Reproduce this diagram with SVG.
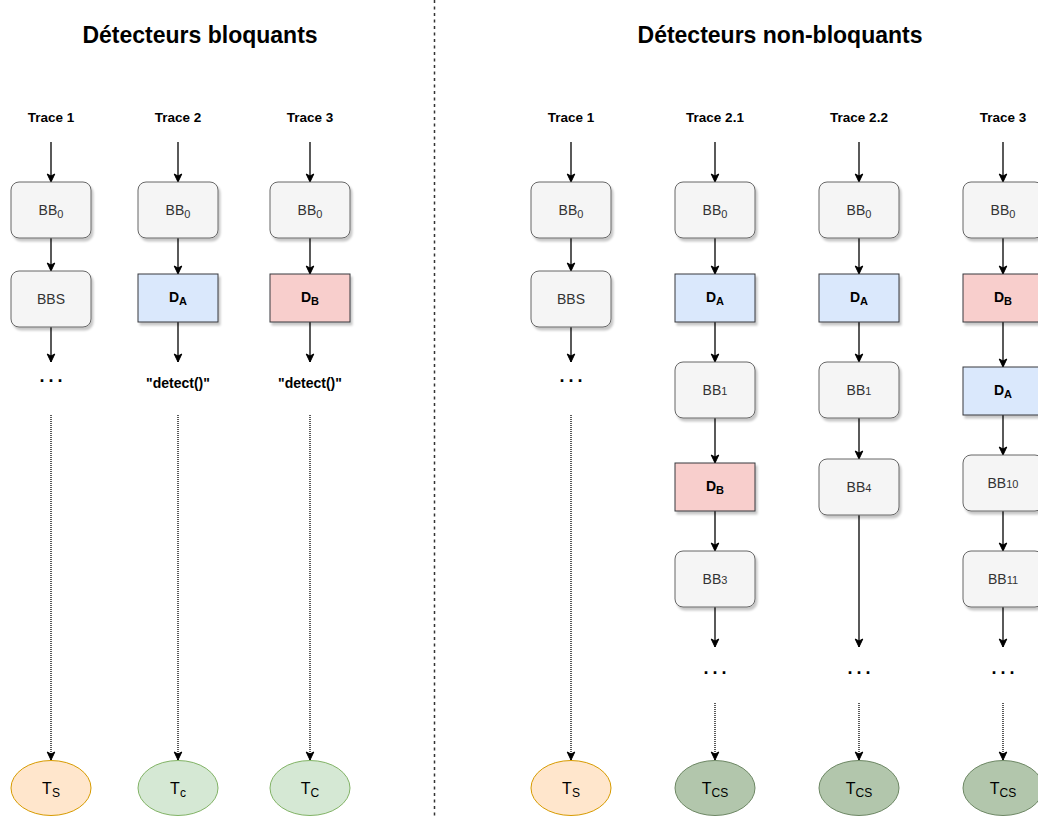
<svg xmlns="http://www.w3.org/2000/svg" width="1038" height="818" viewBox="0 0 1038 818">
<defs>
<filter id="sh" x="-20%" y="-20%" width="150%" height="150%">
<feDropShadow dx="2" dy="3" stdDeviation="1.2" flood-color="#000" flood-opacity="0.22"/>
</filter>
<marker id="ar" markerUnits="userSpaceOnUse" markerWidth="10" markerHeight="10" viewBox="0 0 10 10" refX="9" refY="5" orient="auto">
<path d="M1,1.2 L9,5 L1,8.8 L3,5 z" fill="#000" stroke="#000" stroke-width="1"/>
</marker>
<style>
.t{font-family:"Liberation Sans",Arial,sans-serif}
.title{font-size:23px;font-weight:bold;fill:#000}
.tr{font-size:13.5px;font-weight:bold;fill:#000}
.bb{fill:#f5f5f5;stroke:#666;stroke-width:1;filter:url(#sh)}
.bbt{font-size:14px;fill:#333}
.da{fill:#dae8fc;stroke:#36393d;stroke-width:1;filter:url(#sh)}
.db{fill:#f8cecc;stroke:#36393d;stroke-width:1;filter:url(#sh)}
.dt{font-size:14px;font-weight:bold;fill:#000}
.ts{fill:#ffe6cc;stroke:#d79b00;stroke-width:1}
.tc{fill:#d5e8d4;stroke:#82b366;stroke-width:1}
.tcs{fill:#b2c6ac;stroke:#6d8764;stroke-width:1}
.et{font-size:16px;fill:#000}
.dots{font-size:18px;font-weight:bold;fill:#000;letter-spacing:4px}
.det{font-size:14px;font-weight:bold;fill:#000}
.a{stroke:#000;stroke-width:1.3;fill:none;marker-end:url(#ar)}
.d{stroke:#000;stroke-width:1.3;fill:none;stroke-dasharray:1 1;marker-end:url(#ar)}
</style>
</defs>
<rect width="1038" height="818" fill="#fff"/>
<line x1="434.5" y1="0" x2="434.5" y2="818" stroke="#333" stroke-width="1.5" stroke-dasharray="3 3.5"/>
<g class="t">
<text class="title" x="200" y="43" text-anchor="middle">Détecteurs bloquants</text>
<text class="title" x="780" y="43" text-anchor="middle">Détecteurs non-bloquants</text>
<text class="tr" x="51" y="122" text-anchor="middle">Trace 1</text>
<text class="tr" x="178" y="122" text-anchor="middle">Trace 2</text>
<text class="tr" x="310" y="122" text-anchor="middle">Trace 3</text>
<text class="tr" x="571" y="122" text-anchor="middle">Trace 1</text>
<text class="tr" x="715" y="122" text-anchor="middle">Trace 2.1</text>
<text class="tr" x="859" y="122" text-anchor="middle">Trace 2.2</text>
<text class="tr" x="1003" y="122" text-anchor="middle">Trace 3</text>
<text class="dots" x="53" y="382" text-anchor="middle">...</text>
<text class="det" x="178" y="388" text-anchor="middle">"detect()"</text>
<text class="det" x="310" y="388" text-anchor="middle">"detect()"</text>
<text class="dots" x="573" y="382" text-anchor="middle">...</text>
<text class="dots" x="717" y="674" text-anchor="middle">...</text>
<text class="dots" x="861" y="674" text-anchor="middle">...</text>
<text class="dots" x="1005" y="674" text-anchor="middle">...</text>
</g>
<g id="connectors">
<line class="a" x1="51" y1="142" x2="51" y2="182"/>
<line class="a" x1="51" y1="238" x2="51" y2="271"/>
<line class="a" x1="51" y1="327" x2="51" y2="362"/>
<line class="d" x1="51" y1="415" x2="51" y2="760"/>
<line class="a" x1="178" y1="142" x2="178" y2="182"/>
<line class="a" x1="178" y1="238" x2="178" y2="274"/>
<line class="a" x1="178" y1="322" x2="178" y2="362"/>
<line class="d" x1="178" y1="415" x2="178" y2="760"/>
<line class="a" x1="310" y1="142" x2="310" y2="182"/>
<line class="a" x1="310" y1="238" x2="310" y2="274"/>
<line class="a" x1="310" y1="322" x2="310" y2="362"/>
<line class="d" x1="310" y1="415" x2="310" y2="760"/>
<line class="a" x1="571" y1="142" x2="571" y2="182"/>
<line class="a" x1="571" y1="238" x2="571" y2="271"/>
<line class="a" x1="571" y1="327" x2="571" y2="362"/>
<line class="d" x1="571" y1="415" x2="571" y2="760"/>
<line class="a" x1="715" y1="142" x2="715" y2="182"/>
<line class="a" x1="715" y1="238" x2="715" y2="274"/>
<line class="a" x1="715" y1="322" x2="715" y2="362"/>
<line class="a" x1="715" y1="418" x2="715" y2="463"/>
<line class="a" x1="715" y1="511" x2="715" y2="551"/>
<line class="a" x1="715" y1="607" x2="715" y2="647"/>
<line class="d" x1="715" y1="703" x2="715" y2="760"/>
<line class="a" x1="859" y1="142" x2="859" y2="182"/>
<line class="a" x1="859" y1="238" x2="859" y2="274"/>
<line class="a" x1="859" y1="322" x2="859" y2="362"/>
<line class="a" x1="859" y1="418" x2="859" y2="459"/>
<line class="a" x1="859" y1="515" x2="859" y2="647"/>
<line class="d" x1="859" y1="703" x2="859" y2="760"/>
<line class="a" x1="1003" y1="142" x2="1003" y2="182"/>
<line class="a" x1="1003" y1="238" x2="1003" y2="274"/>
<line class="a" x1="1003" y1="322" x2="1003" y2="367"/>
<line class="a" x1="1003" y1="415" x2="1003" y2="455"/>
<line class="a" x1="1003" y1="511" x2="1003" y2="551"/>
<line class="a" x1="1003" y1="607" x2="1003" y2="647"/>
<line class="d" x1="1003" y1="703" x2="1003" y2="760"/>
</g>
<g id="l1-bb0" class="t"><rect class="bb" x="11" y="182" width="80" height="56" rx="8"/><text class="bbt" x="51" y="215" text-anchor="middle">BB<tspan font-size="11" dy="3">0</tspan></text></g>
<g id="l1-bbs" class="t"><rect class="bb" x="11" y="271" width="80" height="56" rx="8"/><text class="bbt" x="51" y="304" text-anchor="middle">BBS</text></g>
<g id="l1-ts" class="t"><ellipse class="ts" cx="51" cy="788" rx="40" ry="27.5"/><text class="et" x="51" y="794" text-anchor="middle">T<tspan font-size="12" dy="3">S</tspan></text></g>
<g id="l2-bb0" class="t"><rect class="bb" x="138" y="182" width="80" height="56" rx="8"/><text class="bbt" x="178" y="215" text-anchor="middle">BB<tspan font-size="11" dy="3">0</tspan></text></g>
<g id="l2-da" class="t"><rect class="da" x="138" y="274" width="80" height="48"/><text class="dt" x="178" y="302" text-anchor="middle">D<tspan font-size="11" dy="3">A</tspan></text></g>
<g id="l2-tc" class="t"><ellipse class="tc" cx="178" cy="788" rx="40" ry="27.5"/><text class="et" x="178" y="794" text-anchor="middle">T<tspan font-size="12" dy="3">c</tspan></text></g>
<g id="l3-bb0" class="t"><rect class="bb" x="270" y="182" width="80" height="56" rx="8"/><text class="bbt" x="310" y="215" text-anchor="middle">BB<tspan font-size="11" dy="3">0</tspan></text></g>
<g id="l3-db" class="t"><rect class="db" x="270" y="274" width="80" height="48"/><text class="dt" x="310" y="302" text-anchor="middle">D<tspan font-size="11" dy="3">B</tspan></text></g>
<g id="l3-tc" class="t"><ellipse class="tc" cx="310" cy="788" rx="40" ry="27.5"/><text class="et" x="310" y="794" text-anchor="middle">T<tspan font-size="12" dy="3">C</tspan></text></g>
<g id="r1-bb0" class="t"><rect class="bb" x="531" y="182" width="80" height="56" rx="8"/><text class="bbt" x="571" y="215" text-anchor="middle">BB<tspan font-size="11" dy="3">0</tspan></text></g>
<g id="r1-bbs" class="t"><rect class="bb" x="531" y="271" width="80" height="56" rx="8"/><text class="bbt" x="571" y="304" text-anchor="middle">BBS</text></g>
<g id="r1-ts" class="t"><ellipse class="ts" cx="571" cy="788" rx="40" ry="27.5"/><text class="et" x="571" y="794" text-anchor="middle">T<tspan font-size="12" dy="3">S</tspan></text></g>
<g id="r21-bb0" class="t"><rect class="bb" x="675" y="182" width="80" height="56" rx="8"/><text class="bbt" x="715" y="215" text-anchor="middle">BB<tspan font-size="11" dy="3">0</tspan></text></g>
<g id="r21-da" class="t"><rect class="da" x="675" y="274" width="80" height="48"/><text class="dt" x="715" y="302" text-anchor="middle">D<tspan font-size="11" dy="3">A</tspan></text></g>
<g id="r21-bb1" class="t"><rect class="bb" x="675" y="362" width="80" height="56" rx="8"/><text class="bbt" x="715" y="395" text-anchor="middle">BB<tspan font-size="11">1</tspan></text></g>
<g id="r21-db" class="t"><rect class="db" x="675" y="463" width="80" height="48"/><text class="dt" x="715" y="491" text-anchor="middle">D<tspan font-size="11" dy="3">B</tspan></text></g>
<g id="r21-bb3" class="t"><rect class="bb" x="675" y="551" width="80" height="56" rx="8"/><text class="bbt" x="715" y="584" text-anchor="middle">BB<tspan font-size="11">3</tspan></text></g>
<g id="r21-tcs" class="t"><ellipse class="tcs" cx="715" cy="788" rx="40" ry="27.5"/><text class="et" x="715" y="794" text-anchor="middle">T<tspan font-size="12" dy="3">CS</tspan></text></g>
<g id="r22-bb0" class="t"><rect class="bb" x="819" y="182" width="80" height="56" rx="8"/><text class="bbt" x="859" y="215" text-anchor="middle">BB<tspan font-size="11" dy="3">0</tspan></text></g>
<g id="r22-da" class="t"><rect class="da" x="819" y="274" width="80" height="48"/><text class="dt" x="859" y="302" text-anchor="middle">D<tspan font-size="11" dy="3">A</tspan></text></g>
<g id="r22-bb1" class="t"><rect class="bb" x="819" y="362" width="80" height="56" rx="8"/><text class="bbt" x="859" y="395" text-anchor="middle">BB<tspan font-size="11">1</tspan></text></g>
<g id="r22-bb4" class="t"><rect class="bb" x="819" y="459" width="80" height="56" rx="8"/><text class="bbt" x="859" y="492" text-anchor="middle">BB<tspan font-size="11">4</tspan></text></g>
<g id="r22-tcs" class="t"><ellipse class="tcs" cx="859" cy="788" rx="40" ry="27.5"/><text class="et" x="859" y="794" text-anchor="middle">T<tspan font-size="12" dy="3">CS</tspan></text></g>
<g id="r3-bb0" class="t"><rect class="bb" x="963" y="182" width="80" height="56" rx="8"/><text class="bbt" x="1003" y="215" text-anchor="middle">BB<tspan font-size="11" dy="3">0</tspan></text></g>
<g id="r3-db" class="t"><rect class="db" x="963" y="274" width="80" height="48"/><text class="dt" x="1003" y="302" text-anchor="middle">D<tspan font-size="11" dy="3">B</tspan></text></g>
<g id="r3-da" class="t"><rect class="da" x="963" y="367" width="80" height="48"/><text class="dt" x="1003" y="395" text-anchor="middle">D<tspan font-size="11" dy="3">A</tspan></text></g>
<g id="r3-bb10" class="t"><rect class="bb" x="963" y="455" width="80" height="56" rx="8"/><text class="bbt" x="1003" y="488" text-anchor="middle">BB<tspan font-size="11">10</tspan></text></g>
<g id="r3-bb11" class="t"><rect class="bb" x="963" y="551" width="80" height="56" rx="8"/><text class="bbt" x="1003" y="584" text-anchor="middle">BB<tspan font-size="11">11</tspan></text></g>
<g id="r3-tcs" class="t"><ellipse class="tcs" cx="1003" cy="788" rx="40" ry="27.5"/><text class="et" x="1003" y="794" text-anchor="middle">T<tspan font-size="12" dy="3">CS</tspan></text></g>
</svg>
